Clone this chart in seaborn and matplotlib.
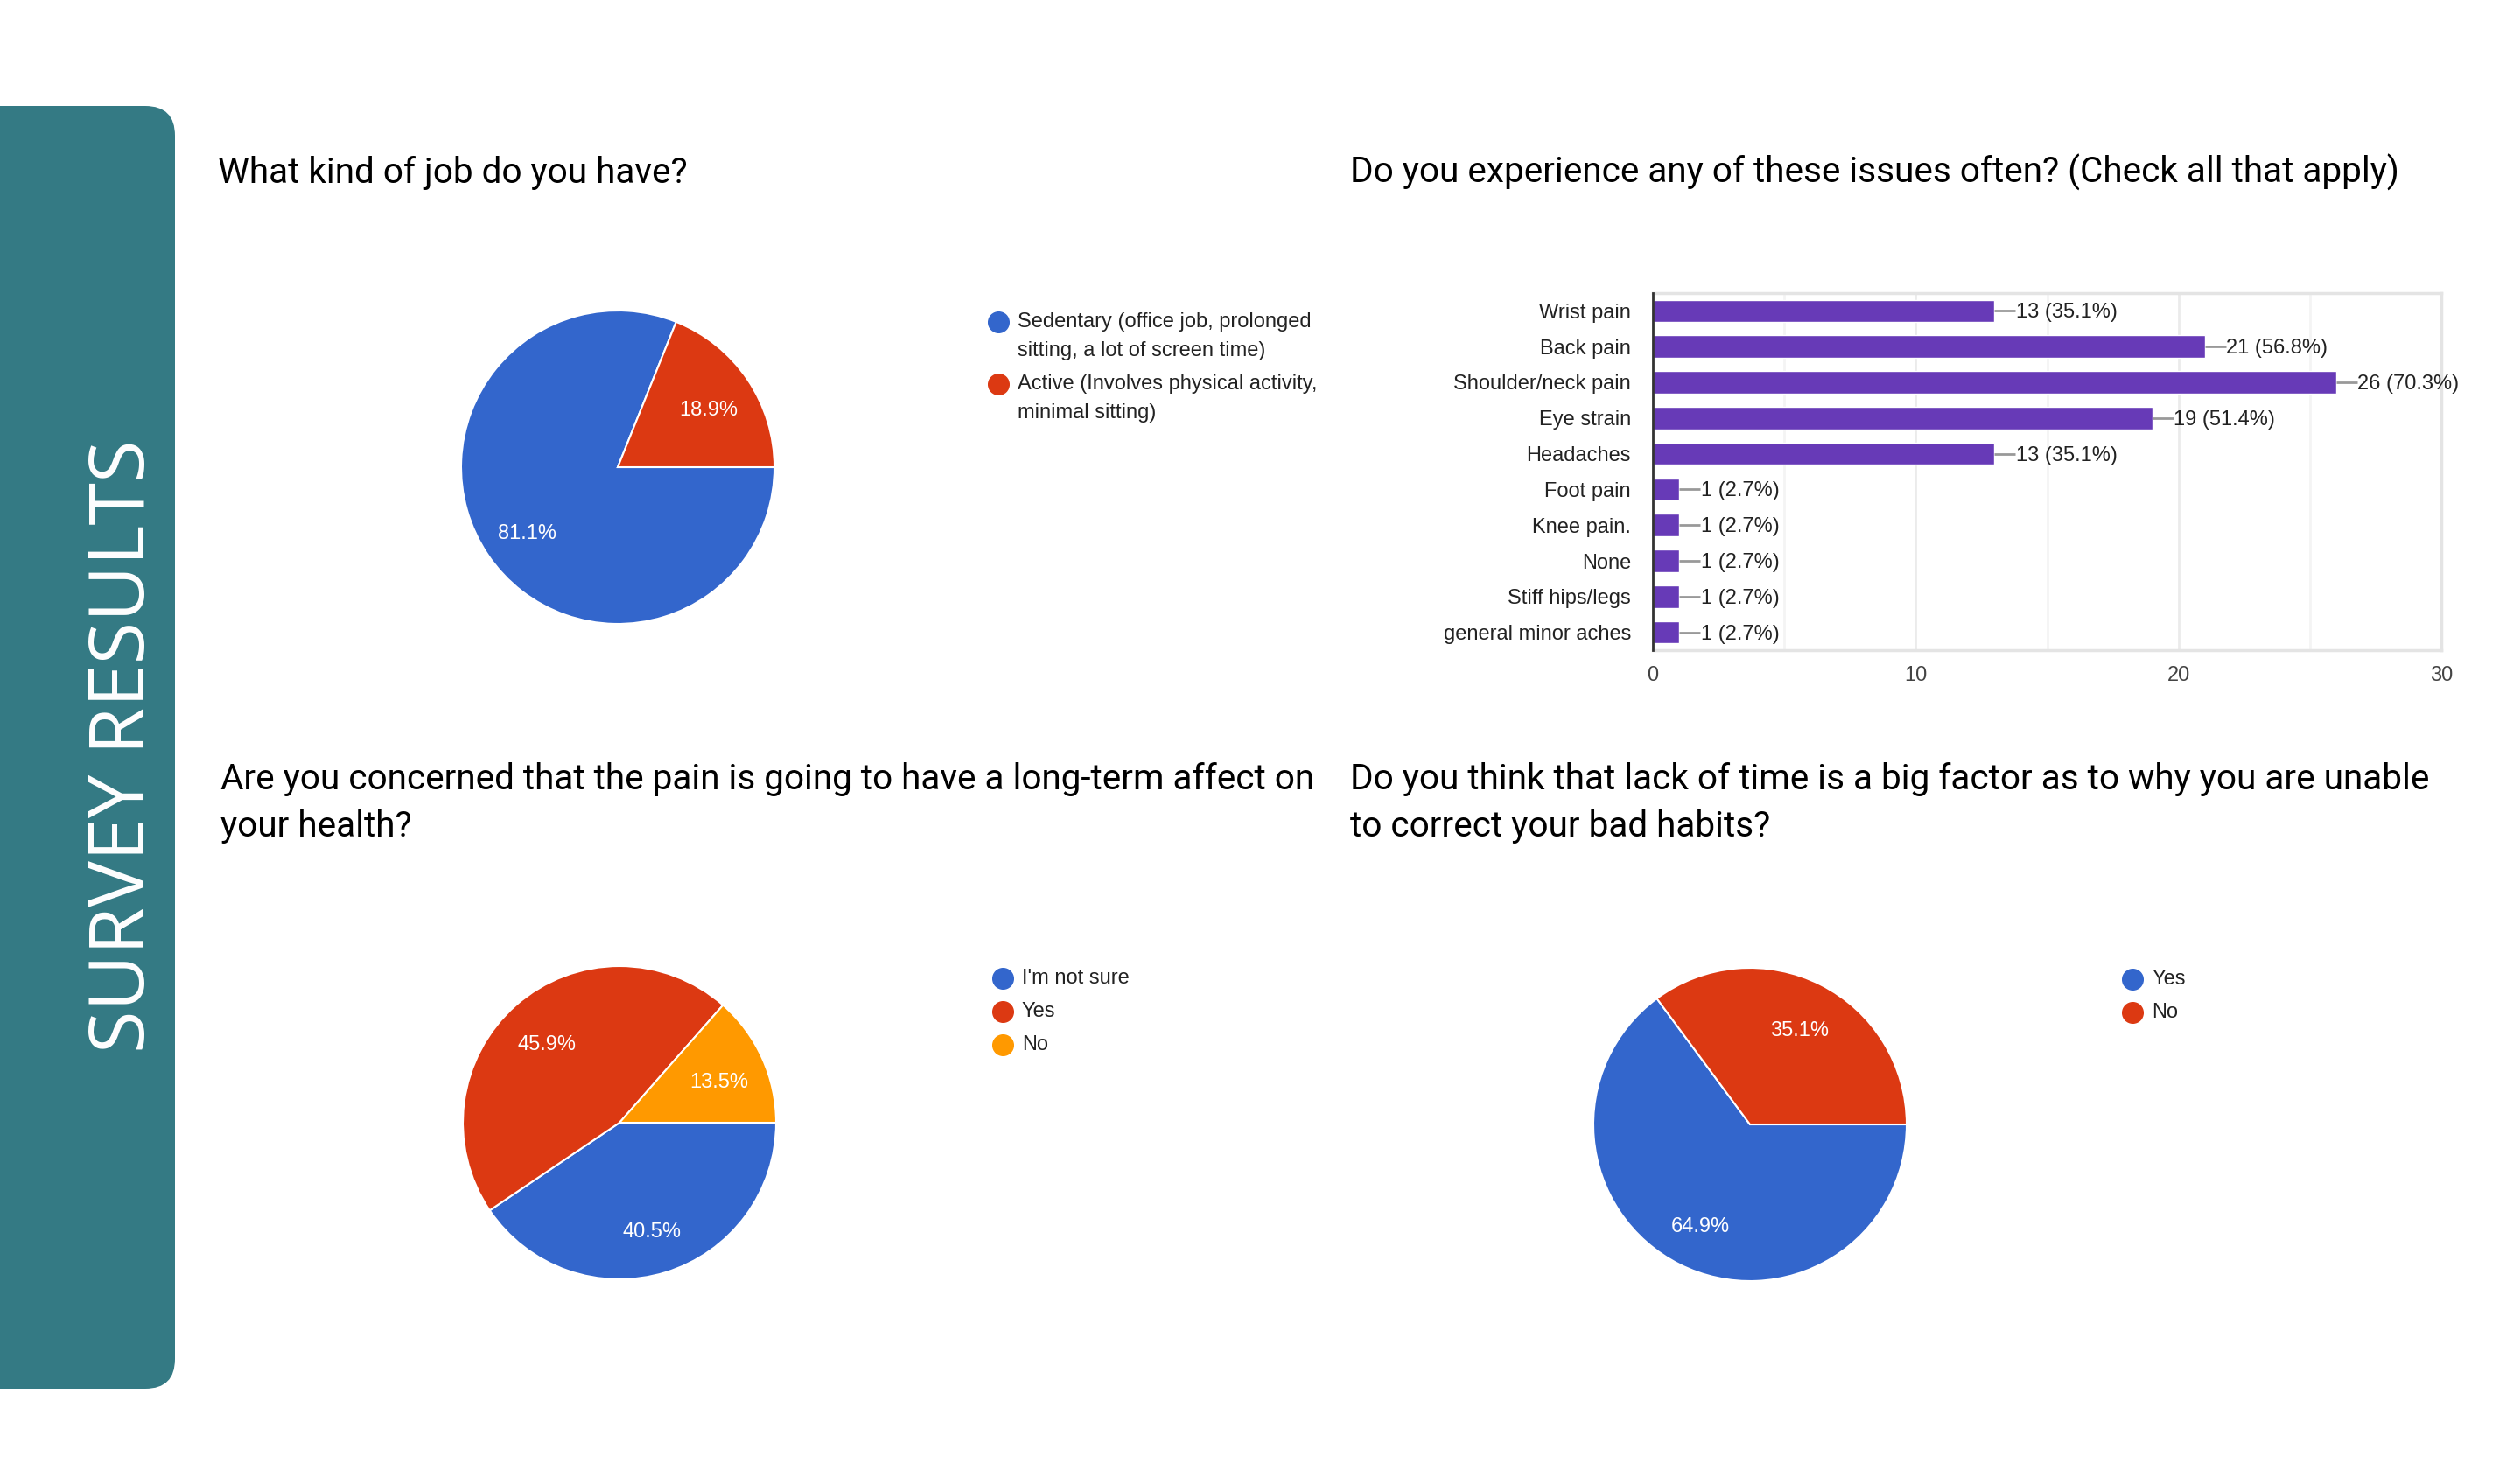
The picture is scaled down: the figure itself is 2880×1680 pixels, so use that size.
import matplotlib
matplotlib.use('Agg')
import matplotlib.pyplot as plt
from matplotlib.patches import FancyBboxPatch
from matplotlib.ticker import MultipleLocator
import seaborn as sns
import pandas as pd

W, H = 2880, 1680

# survey data (37 respondents)
respondents = 37
job_labels = ['Sedentary (office job, prolonged\nsitting, a lot of screen time)',
              'Active (Involves physical activity,\nminimal sitting)']
job_counts = [30, 7]

issue_labels = ['Wrist pain', 'Back pain', 'Shoulder/neck pain', 'Eye strain', 'Headaches',
                'Foot pain', 'Knee pain.', 'None', 'Stiff hips/legs', 'general minor aches']
issue_counts = [13, 21, 26, 19, 13, 1, 1, 1, 1, 1]

concern_labels = ["I'm not sure", 'Yes', 'No']
concern_counts = [15, 17, 5]

time_labels = ['Yes', 'No']
time_counts = [24, 13]

titles = ['What kind of job do you have?',
          'Do you experience any of these issues often? (Check all that apply)',
          'Are you concerned that the pain is going to have a long-term affect on\nyour health?',
          'Do you think that lack of time is a big factor as to why you are unable\nto correct your bad habits?']

BLUE, RED, ORANGE, PURPLE = '#3366cc', '#dc3912', '#ff9900', '#673ab7'
TEAL = '#347a84'

sns.set_theme(style='white')
plt.rcParams['font.family'] = ['Liberation Sans', 'DejaVu Sans']
CHART_FONT = ['Liberation Sans', 'DejaVu Sans']
TITLE_FONT = ['Roboto', 'DejaVu Sans']
FS = 17


def px_axes(fig, left, top, width, height):
    return fig.add_axes([left / W, 1 - (top + height) / H, width / W, height / H])


def draw_pie(fig, cx, cy, r, counts, colors):
    ax = px_axes(fig, cx - r, cy - r, 2 * r, 2 * r)
    _, _, pct_texts = ax.pie(counts, colors=colors, startangle=0, counterclock=False,
                             autopct=lambda p: f'{p:.1f}%', pctdistance=0.7,
                             wedgeprops=dict(edgecolor='white', linewidth=1.5),
                             textprops=dict(color='white', fontsize=FS, family=CHART_FONT))
    for t in pct_texts:
        # labels sit slightly lower than the slice centroid
        t.set_y(t.get_position()[1] - 0.03)
    ax.set_xlim(-1, 1)
    ax.set_ylim(-1, 1)
    ax.axis('off')
    return ax


def draw_legend(bg, x, y, labels, colors):
    for lab, col in zip(labels, colors):
        bg.plot([x], [y], 'o', ms=17, color=col, zorder=3)
        lines = lab.split('\n')
        for i, line in enumerate(lines):
            bg.text(x + 22, y + i * 33, line, fontsize=FS, color='#222222',
                    va='center', ha='left', family=CHART_FONT)
        y += (len(lines) - 1) * 33 + 38


fig = plt.figure(figsize=(W / 100, H / 100), dpi=100)
fig.patch.set_facecolor('white')

# background layer in pixel coordinates
bg = fig.add_axes([0, 0, 1, 1])
bg.set_xlim(0, W)
bg.set_ylim(H, 0)
bg.axis('off')
bg.add_patch(FancyBboxPatch((-60, 121), 260, 1466,
                            boxstyle='round,pad=0,rounding_size=34',
                            facecolor=TEAL, edgecolor='none'))
bg.text(142, 853, 'SURVEY RESULTS', rotation=90, color='white', fontsize=63.5,
        ha='center', va='center', family=['Open Sans', 'DejaVu Sans'])

title_pos = [(249, 209), (1543, 209), (252, 902), (1543, 902)]
for t, (tx, ty) in zip(titles, title_pos):
    for i, line in enumerate(t.split('\n')):
        bg.text(tx, ty + i * 54, line, fontsize=29.2, color='black',
                va='baseline', ha='left', family=TITLE_FONT)

# pies
draw_pie(fig, 706, 534, 179, job_counts, [BLUE, RED])
draw_legend(bg, 1141, 368, job_labels, [BLUE, RED])

draw_pie(fig, 708, 1283, 179, concern_counts, [BLUE, RED, ORANGE])
draw_legend(bg, 1146, 1118, concern_labels, [BLUE, RED, ORANGE])

draw_pie(fig, 2000, 1285, 179, time_counts, [BLUE, RED])
draw_legend(bg, 2437, 1119, time_labels, [BLUE, RED])

# bar chart of issues
issues = pd.DataFrame({'issue': issue_labels, 'count': issue_counts})
ax = px_axes(fig, 1889, 335, 901, 408)
sns.barplot(data=issues, x='count', y='issue', orient='h', color=PURPLE,
            saturation=1, width=0.63, ax=ax)
ax.set_xlim(0, 30)
ax.set_ylim(9.5, -0.5)
ax.xaxis.set_major_locator(MultipleLocator(10))
ax.xaxis.set_minor_locator(MultipleLocator(5))
ax.grid(True, axis='x', which='major', color='#ebebeb', lw=2, zorder=0)
ax.grid(True, axis='x', which='minor', color='#f4f4f4', lw=2, zorder=0)
ax.set_axisbelow(True)
ax.set_xlabel('')
ax.set_ylabel('')
for side in ['top', 'right', 'bottom']:
    ax.spines[side].set_visible(True)
    ax.spines[side].set_color('#e4e4e4')
    ax.spines[side].set_linewidth(2.5)
ax.spines['left'].set_color('#333333')
ax.spines['left'].set_linewidth(2)
ax.spines['left'].set_zorder(5)
ax.tick_params(axis='y', length=0, pad=18, labelsize=FS, labelcolor='#222222')
ax.tick_params(axis='x', which='both', length=0, pad=13, labelsize=FS, labelcolor='#444444')
for i, c in enumerate(issue_counts):
    ax.hlines(i, c, c + 0.8, color='#999999', lw=2, zorder=3)
    ax.text(c + 0.82, i + 0.05, f'{c} ({c / respondents * 100:.1f}%)', va='center', ha='left',
            fontsize=FS, color='#222222', family=CHART_FONT)

fig.savefig('out.png', dpi=100, facecolor='white')
